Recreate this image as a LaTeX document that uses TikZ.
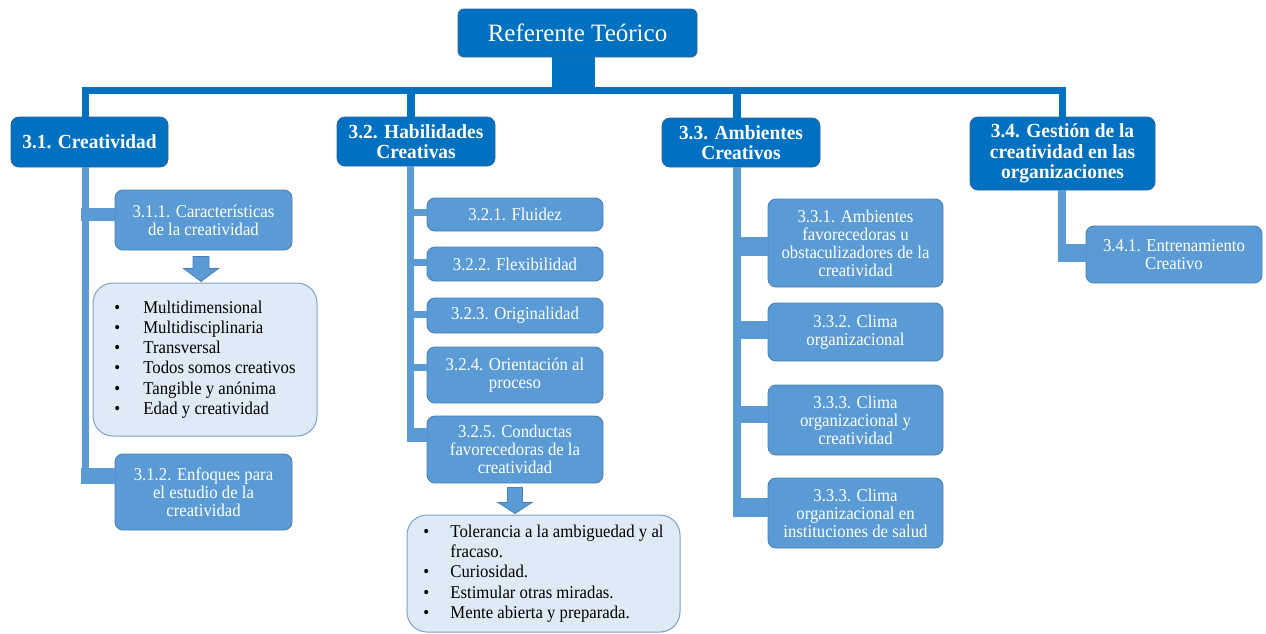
\documentclass[tikz,border=0pt]{standalone}
\usepackage{fontspec}
\setmainfont{Liberation Serif}
\newfontfamily\condf[FakeStretch=0.93]{Liberation Serif}
\newfontfamily\boldf[FakeStretch=0.97]{Liberation Serif}
\usetikzlibrary{calc}
\definecolor{dkblue}{HTML}{0070C0}
\definecolor{dkborder}{HTML}{2A64A0}
\definecolor{mdblue}{HTML}{5B9BD5}
\definecolor{mdborder}{HTML}{4A7FB5}
\definecolor{ltfill}{HTML}{DEEBF7}
\definecolor{ltborder}{HTML}{7F9FC8}
\begin{document}
\begin{tikzpicture}[x=1pt,y=-1pt,
  rootbox/.style={fill=dkblue,draw=dkborder,line width=0.8pt,rounded corners=6pt,
    text=white,align=center,inner sep=0pt,font=\fontsize{25}{30}\selectfont},
  topbox/.style={fill=dkblue,draw=dkborder,line width=0.8pt,rounded corners=8pt,
    text=white,align=center,inner sep=0pt,font=\boldf\bfseries\fontsize{20}{20.5}\selectfont},
  subbox/.style={fill=mdblue,draw=mdborder,line width=0.9pt,rounded corners=8pt,
    text=white,align=center,inner sep=0pt,font=\condf\fontsize{18}{18}\selectfont},
  listbox/.style={fill=ltfill,draw=ltborder,line width=1pt,rounded corners=20pt,
    text=black,align=left,inner sep=0pt,font=\condf\fontsize{18}{20.3}\selectfont},
  dkline/.style={draw=dkblue,line join=miter},
  ltline/.style={draw=mdblue},
  blockarrow/.style={fill=mdblue,draw=mdborder,line width=0.8pt,line join=miter}
]
\useasboundingbox (0,0) rectangle (1266,633);

% ---------- nodes ----------
\node[rootbox,minimum width=239,minimum height=48] (root) at (577.5,33) {Referente Teórico};

\node[topbox,minimum width=157,minimum height=50] (c31) at (89.5,142) {3.1. Creatividad};
\node[topbox,minimum width=158,minimum height=49] (c32) at (416,141.5) {3.2. Habilidades\\Creativas};
\node[topbox,minimum width=158,minimum height=49] (c33) at (741,142.5) {3.3. Ambientes\\Creativos};
\node[topbox,minimum width=185,minimum height=73] (c34) at (1062.5,153.5) {3.4. Gestión de la\\creatividad en las\\organizaciones};

\node[subbox,minimum width=177,minimum height=60] (c311) at (203.5,220) {3.1.1. Características\\de la creatividad};
\node[subbox,minimum width=177,minimum height=76] (c312) at (203.5,492) {3.1.2. Enfoques para\\el estudio de la\\creatividad};
\node[listbox,minimum width=224,minimum height=153] (l31) at (205,359.5)
  {\makebox[29pt][l]{•}Multidimensional\\
   \makebox[29pt][l]{•}Multidisciplinaria\\
   \makebox[29pt][l]{•}Transversal\\
   \makebox[29pt][l]{•}Todos somos creativos\\
   \makebox[29pt][l]{•}Tangible y anónima\\
   \makebox[29pt][l]{•}Edad y creatividad};

\node[subbox,minimum width=176,minimum height=33] (c321) at (515,214.5) {3.2.1. Fluidez};
\node[subbox,minimum width=176,minimum height=34] (c322) at (515,264) {3.2.2. Flexibilidad};
\node[subbox,minimum width=176,minimum height=35] (c323) at (515,315.5) {3.2.3. Originalidad};
\node[subbox,minimum width=176,minimum height=56] (c324) at (515,375) {3.2.4. Orientación al\\proceso};
\node[subbox,minimum width=176,minimum height=67] (c325) at (515,449.5) {3.2.5. Conductas\\favorecedoras de la\\creatividad};
\node[listbox,minimum width=273,minimum height=117] (l32) at (543.5,573.5)
  {\makebox[27pt][l]{•}Tolerancia a la ambiguedad y al\\
   \hspace*{27pt}fracaso.\\
   \makebox[27pt][l]{•}Curiosidad.\\
   \makebox[27pt][l]{•}Estimular otras miradas.\\
   \makebox[27pt][l]{•}Mente abierta y preparada.};

\node[subbox,minimum width=175,minimum height=88] (c331) at (855.5,243) {3.3.1. Ambientes\\favorecedoras u\\obstaculizadores de la\\creatividad};
\node[subbox,minimum width=175,minimum height=58] (c332) at (855.5,332) {3.3.2. Clima\\organizacional};
\node[subbox,minimum width=175,minimum height=70] (c333) at (855.5,420) {3.3.3. Clima\\organizacional y\\creatividad};
\node[subbox,minimum width=175,minimum height=70] (c334) at (855.5,513) {3.3.3. Clima\\organizacional en\\instituciones de salud};

\node[subbox,minimum width=176,minimum height=57] (c341) at (1174,254.5) {3.4.1. Entrenamiento\\Creativo};

% ---------- top connectors ----------
\coordinate (stem) at (573.5,90.5);
\coordinate (d31) at (85.5,90.5);
\coordinate (d32) at (411,90.5);
\coordinate (d33) at (737,90.5);
\coordinate (d34) at (1062,90.5);
\begin{scope}[on background layer/.style={}]
\end{scope}
\draw[dkline,line width=43] (root.south -| stem) -- (stem);
\draw[dkline,line width=7] (c31.north -| d31) -- (d31) -- (d34) -- (c34.north -| d34);
\draw[dkline,line width=8] (d32) -- (c32.north -| d32);
\draw[dkline,line width=8] (d33) -- (c33.north -| d33);

% ---------- branch 3.1 ----------
\coordinate (s31) at (85.5,484);
\draw[ltline,line width=7] (c31.south -| s31) -- (s31);
\draw[ltline,line width=13] ($(c311.west)+(0,-5.5)$) -- ++(-33.5,0);
\draw[ltline,line width=16] ($(c312.west)+(0,-16)$) -- ++(-33.5,0);

% ---------- branch 3.2 ----------
\coordinate (s32) at (410.5,442);
\draw[ltline,line width=7] (c32.south -| s32) -- (s32);
\draw[ltline,line width=7] ($(c321.west)+(0,-2)$) -- ++(-20,0);
\draw[ltline,line width=7] ($(c322.west)+(0,-1.5)$) -- ++(-20,0);
\draw[ltline,line width=7] ($(c323.west)+(0,-1)$) -- ++(-20,0);
\draw[ltline,line width=7] ($(c324.west)+(0,-7.5)$) -- ++(-20,0);
\draw[ltline,line width=14] ($(c325.west)+(0,-14.5)$) -- ++(-20,0);

% ---------- branch 3.3 ----------
\coordinate (s33) at (737,517);
\draw[ltline,line width=8] (c33.south -| s33) -- (s33);
\draw[ltline,line width=19] ($(c331.west)+(0,3.5)$) -- ++(-35,0);
\draw[ltline,line width=18] ($(c332.west)+(0,-2)$) -- ++(-35,0);
\draw[ltline,line width=17] ($(c333.west)+(0,-5.5)$) -- ++(-35,0);
\draw[ltline,line width=19] ($(c334.west)+(0,-5.5)$) -- ++(-35,0);

% ---------- branch 3.4 ----------
\coordinate (s34) at (1062,262);
\draw[ltline,line width=8] (c34.south -| s34) -- (s34);
\draw[ltline,line width=18] ($(c341.west)+(0,-1.5)$) -- ++(-28,0);

% ---------- block arrows ----------
\filldraw[blockarrow,shift={($(c311.south)+(-2.5,0)$)}]
  (-8,6) -- (8,6) -- (8,18) -- (17.5,18) -- (0,31) -- (-17.5,18) -- (-8,18) -- cycle;
\filldraw[blockarrow,shift={($(c325.south)+(0,0)$)}]
  (-7.5,4) -- (7.5,4) -- (7.5,19) -- (17,19) -- (0,30) -- (-17,19) -- (-7.5,19) -- cycle;
\end{tikzpicture}
\end{document}
